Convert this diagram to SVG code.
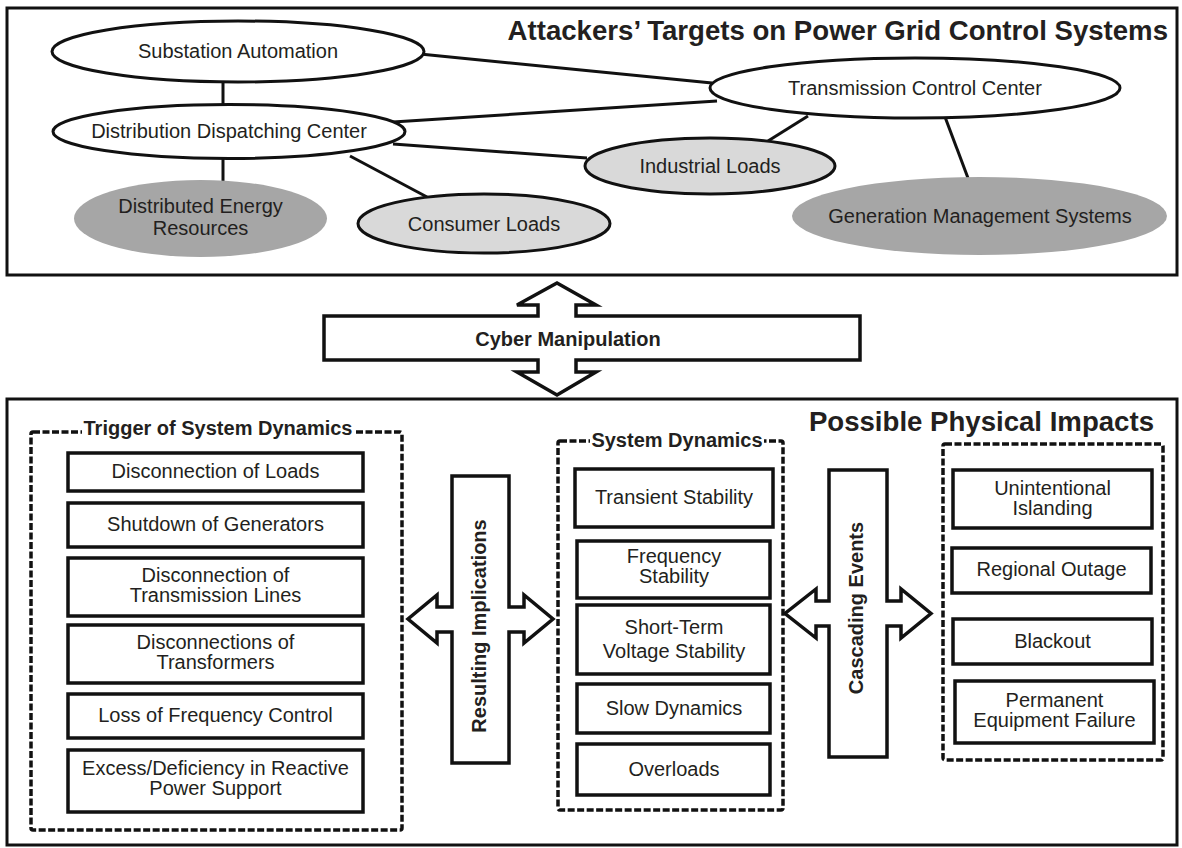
<svg xmlns="http://www.w3.org/2000/svg" width="1182" height="848" viewBox="0 0 1182 848">
<style>
text{font-family:"Liberation Sans",Arial,sans-serif;fill:#231f20;font-size:20px;text-anchor:middle}
.b{font-weight:bold}
.title{font-weight:bold;font-size:27.6px;text-anchor:end}
.frame{fill:none;stroke:#111;stroke-width:3}
.ell{fill:#fff;stroke:#111;stroke-width:3}
.lite{fill:#d9d9d9;stroke:#111;stroke-width:3}
.dark{fill:#a6a6a6;stroke:none}
.box{fill:#fff;stroke:#111;stroke-width:3.5}
.dash{fill:none;stroke:#111;stroke-width:3.5;stroke-dasharray:7 2.5}
.arrow{fill:#fff;stroke:#111;stroke-width:3.5;stroke-linejoin:miter}
.conn line{stroke:#111;stroke-width:3}
.mask{fill:#fff}
</style>
<rect class="frame" x="7" y="8" width="1170" height="267"/>
<rect class="frame" x="7" y="399" width="1170" height="446"/>
<text class="title" x="1168" y="40">Attackers’ Targets on Power Grid Control Systems</text>
<text class="title" x="1154" y="431">Possible Physical Impacts</text>
<g id="connectors" class="conn">
<line x1="223" y1="82" x2="223" y2="104"/>
<line x1="223" y1="158" x2="223" y2="181"/>
<line x1="350" y1="156" x2="427" y2="197"/>
<line x1="393" y1="122" x2="717" y2="101"/>
<line x1="420" y1="54" x2="712" y2="83"/>
<line x1="393" y1="144" x2="587" y2="158"/>
<line x1="808" y1="116" x2="768" y2="141"/>
<line x1="945" y1="117" x2="968" y2="178"/>
</g>
<g id="substation"><ellipse class="ell" cx="238" cy="51.5" rx="186" ry="30.5"/><text x="238" y="58">Substation Automation</text></g>
<g id="distribution"><ellipse class="ell" cx="229" cy="131.5" rx="176" ry="27"/><text x="229" y="138">Distribution Dispatching Center</text></g>
<g id="der"><ellipse class="dark" cx="200.5" cy="218.5" rx="126.5" ry="38.5"/><text x="200.5" y="213">Distributed Energy</text><text x="200.5" y="235">Resources</text></g>
<g id="consumer"><ellipse class="lite" cx="484" cy="223.5" rx="126" ry="29.5"/><text x="484" y="231">Consumer Loads</text></g>
<g id="industrial"><ellipse class="lite" cx="710" cy="166" rx="125" ry="28"/><text x="710" y="173">Industrial Loads</text></g>
<g id="transmission"><ellipse class="ell" cx="915" cy="88" rx="205" ry="30"/><text x="915" y="95">Transmission Control Center</text></g>
<g id="generation"><ellipse class="dark" cx="979.5" cy="216" rx="187.5" ry="39"/><text x="980" y="223">Generation Management Systems</text></g>
<g id="cyber"><path class="arrow" d="M557,283 L596,305 H576 V316 H860 V360 H576 V372 H596 L557,395 L517,372 H538 V360 H324 V316 H538 V305 H517 Z"/><text class="b" x="568" y="346">Cyber Manipulation</text></g>
<g id="trigger">
<rect class="dash" x="31" y="432" width="371" height="398" rx="2"/>
<rect class="mask" x="82" y="420" width="274" height="22"/>
<text class="b" x="218" y="435">Trigger of System Dynamics</text>
<rect class="box" x="68" y="453" width="295" height="38"/><text x="215.5" y="478">Disconnection of Loads</text>
<rect class="box" x="68" y="503" width="295" height="44"/><text x="215.5" y="531">Shutdown of Generators</text>
<rect class="box" x="68" y="558" width="295" height="58"/><text x="215.5" y="582">Disconnection of</text><text x="215.5" y="602">Transmission Lines</text>
<rect class="box" x="68" y="625" width="295" height="58"/><text x="215.5" y="649">Disconnections of</text><text x="215.5" y="669">Transformers</text>
<rect class="box" x="68" y="694" width="295" height="44"/><text x="215.5" y="722">Loss of Frequency Control</text>
<rect class="box" x="68" y="750" width="295" height="62"/><text x="215.5" y="775">Excess/Deficiency in Reactive</text><text x="215.5" y="795">Power Support</text>
</g>
<g id="resulting"><path class="arrow" d="M452,476 H509 V607 H524 V595 L553,619 L524,643 V632 H509 V763 H452 V632 H437 V643 L408,619 L437,595 V607 H452 Z"/><text class="b" transform="translate(479,626) rotate(-90)" x="0" y="7">Resulting Implications</text></g>
<g id="dynamics">
<rect class="dash" x="558" y="441" width="225" height="369" rx="2"/>
<rect class="mask" x="590" y="430" width="174" height="22"/>
<text class="b" x="677" y="447">System Dynamics</text>
<rect class="box" x="575" y="469" width="198" height="58"/><text x="674" y="504">Transient Stability</text>
<rect class="box" x="577" y="541" width="193" height="57"/><text x="674" y="563">Frequency</text><text x="674" y="583">Stability</text>
<rect class="box" x="577" y="605" width="193" height="69"/><text x="674" y="634">Short-Term</text><text x="674" y="658">Voltage Stability</text>
<rect class="box" x="577" y="684" width="193" height="49"/><text x="674" y="715">Slow Dynamics</text>
<rect class="box" x="577" y="744" width="193" height="51"/><text x="674" y="776">Overloads</text>
</g>
<g id="cascading"><path class="arrow" d="M829,470 H887 V601 H901 V589 L931,613.5 L901,638 V626 H887 V757 H829 V626 H816 V638 L785,613.5 L816,589 V601 H829 Z"/><text class="b" transform="translate(856,608) rotate(-90)" x="0" y="7">Cascading Events</text></g>
<g id="impacts">
<rect class="dash" x="943" y="444" width="220" height="316" rx="2"/>
<rect class="box" x="953" y="470" width="199" height="58"/><text x="1052.5" y="495">Unintentional</text><text x="1052.5" y="515">Islanding</text>
<rect class="box" x="952" y="548" width="199" height="45"/><text x="1051.5" y="576">Regional Outage</text>
<rect class="box" x="953" y="619" width="199" height="45"/><text x="1052.5" y="648">Blackout</text>
<rect class="box" x="955" y="681" width="199" height="62"/><text x="1054.5" y="707">Permanent</text><text x="1054.5" y="727">Equipment Failure</text>
</g>
</svg>
